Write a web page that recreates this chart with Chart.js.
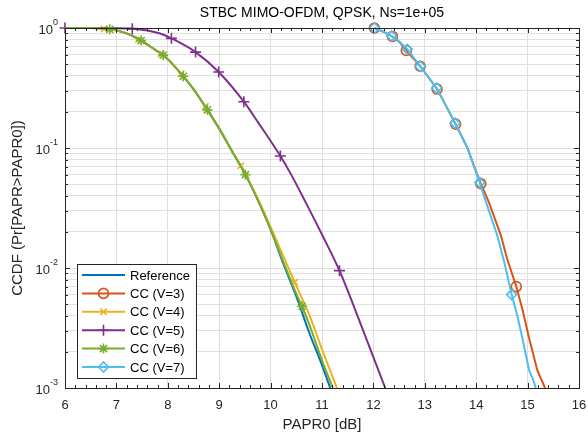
<!DOCTYPE html>
<html>
<head>
<meta charset="utf-8">
<title>STBC MIMO-OFDM CCDF</title>
<script src="https://cdn.jsdelivr.net/npm/chart.js@4.4.0/dist/chart.umd.min.js"></script>
<style>
  html, body { margin: 0; padding: 0; background: #fff; }
  #wrap { width: 588px; height: 434px; }
</style>
</head>
<body>
<div id="wrap"><canvas id="ccdf" width="588" height="434"></canvas></div>
<script>
// axis ticks
const xTicks = [6, 7, 8, 9, 10, 11, 12, 13, 14, 15, 16];
const yDecades = [0.001, 0.01, 0.1, 1];
const yDecadeExp = ["-3", "-2", "-1", "0"];

const seriesNames = ["Reference", "CC (V=3)", "CC (V=4)", "CC (V=5)", "CC (V=6)", "CC (V=7)"];

// Reference
const refPapr = [6.0, 6.5, 6.87, 7.0, 7.25, 7.48, 7.75, 7.91, 8.0, 8.3, 8.5, 8.77, 9.0, 9.25, 9.51, 9.75, 10.0, 10.25, 10.5, 10.75, 11.0, 11.16];
const refCcdf = [1.0, 0.998, 0.975, 0.955, 0.885, 0.785, 0.66, 0.594, 0.55, 0.396, 0.31, 0.208, 0.145, 0.094, 0.060, 0.037, 0.021, 0.0108, 0.0058, 0.0029, 0.00155, 0.001];

// CC (V=3)
const v3Papr = [12.02, 12.2, 12.37, 12.5, 12.64, 12.91, 13.05, 13.24, 13.4, 13.6, 13.83, 13.95, 14.09, 14.25, 14.48, 14.6, 14.78, 14.9, 15.02, 15.19, 15.34];
const v3Ccdf = [1.0, 0.93, 0.85, 0.77, 0.65, 0.48, 0.40, 0.31, 0.23, 0.158, 0.10, 0.072, 0.0505, 0.035, 0.0187, 0.012, 0.0070, 0.0045, 0.0027, 0.0014, 0.001];
const v3Marks = [12.02, 12.37, 12.64, 12.91, 13.24, 13.6, 14.09, 14.78];

// CC (V=4)
const v4Papr = [6.0, 6.5, 6.76, 7.0, 7.25, 7.43, 7.75, 7.87, 8.0, 8.26, 8.5, 8.73, 9.0, 9.25, 9.42, 9.75, 10.0, 10.25, 10.47, 10.68, 10.75, 11.0, 11.29];
const v4Ccdf = [1.0, 0.998, 0.982, 0.955, 0.885, 0.805, 0.66, 0.61, 0.55, 0.415, 0.31, 0.222, 0.145, 0.094, 0.071, 0.038, 0.022, 0.0125, 0.0076, 0.0048, 0.0041, 0.0021, 0.001];
const v4Marks = [6.76, 7.43, 7.87, 8.26, 8.73, 9.42, 10.47];

// CC (V=5)
const v5Papr = [6.0, 6.5, 7.0, 7.31, 7.6, 7.85, 8.07, 8.54, 8.99, 9.48, 9.75, 10.19, 10.4, 10.68, 11.0, 11.34, 11.79, 12.23];
const v5Ccdf = [1.0, 0.999, 0.997, 0.988, 0.955, 0.9, 0.82, 0.63, 0.43, 0.243, 0.165, 0.0857, 0.06, 0.0354, 0.019, 0.0095, 0.0031, 0.001];
const v5Marks = [6.0, 7.31, 8.07, 8.54, 8.99, 9.48, 10.19, 11.34];

// CC (V=6)
const v6Papr = [6.0, 6.5, 6.87, 7.0, 7.25, 7.48, 7.75, 7.91, 8.0, 8.3, 8.5, 8.77, 9.0, 9.25, 9.51, 9.75, 10.0, 10.25, 10.5, 10.61, 10.75, 11.0, 11.21];
const v6Ccdf = [1.0, 0.998, 0.975, 0.955, 0.885, 0.785, 0.66, 0.594, 0.55, 0.396, 0.31, 0.208, 0.145, 0.094, 0.060, 0.037, 0.021, 0.0112, 0.0061, 0.0048, 0.0034, 0.0017, 0.001];
const v6Marks = [6.87, 7.48, 7.91, 8.3, 8.77, 9.51, 10.61];

// CC (V=7)
const v7Papr = [12.02, 12.2, 12.35, 12.5, 12.66, 12.91, 13.05, 13.23, 13.4, 13.59, 13.83, 13.95, 14.07, 14.19, 14.41, 14.55, 14.69, 14.8, 14.89, 15.03, 15.1, 15.16];
const v7Ccdf = [1.0, 0.93, 0.86, 0.77, 0.665, 0.48, 0.40, 0.316, 0.23, 0.161, 0.10, 0.072, 0.0515, 0.0355, 0.0187, 0.011, 0.0060, 0.0040, 0.0027, 0.0014, 0.0012, 0.001];
const v7Marks = [12.02, 12.35, 12.66, 12.91, 13.23, 13.59, 14.07, 14.69];

const FONT = '"Liberation Sans", Arial, Helvetica, sans-serif';
const AXCOL = "#262626";

function toPoints(xs, ys) {
  return xs.map(function (x, i) { return { x: x, y: ys[i] }; });
}

function markerRadius(marks, r) {
  return function (c) {
    return marks.indexOf(c.raw.x) >= 0 ? r : 0;
  };
}

// [data, marks, colour, pointStyle, radius]
const series = [
  [toPoints(refPapr, refCcdf), [], "#0072BD", "circle", 0],
  [toPoints(v3Papr, v3Ccdf), v3Marks, "#D95319", "circle", 5],
  [toPoints(v4Papr, v4Ccdf), v4Marks, "#EDB120", "crossRot", 4.5],
  [toPoints(v5Papr, v5Ccdf), v5Marks, "#7E2F8E", "cross", 5.5],
  [toPoints(v6Papr, v6Ccdf), v6Marks, "#77AC30", "star", 5],
  [toPoints(v7Papr, v7Ccdf), v7Marks, "#4DBEEE", "rectRot", 5],
];

const datasets = series.map(function (s, i) {
  return {
    label: seriesNames[i],
    data: s[0],
    borderColor: s[2],
    backgroundColor: "rgba(0,0,0,0)",
    borderWidth: 2,
    tension: 0,
    cubicInterpolationMode: i === 1 || i === 5 ? "default" : "monotone",
    pointStyle: s[3],
    pointRadius: markerRadius(s[1], s[4]),
    pointBorderColor: s[2],
    pointBackgroundColor: "rgba(0,0,0,0)",
    pointBorderWidth: 1.6,
    order: series.length - i,
    clip: false,
  };
});

function drawMarker(ctx, style, r, x, y) {
  if (Chart.helpers && Chart.helpers.drawPoint) {
    Chart.helpers.drawPoint(ctx, { pointStyle: style, radius: r, rotation: 0, borderWidth: 1.6 }, x, y);
  }
}

const matlabAxes = {
  id: "matlabAxes",
  afterDraw: function (chart) {
    const ctx = chart.ctx;
    const a = chart.chartArea;
    const xs = chart.scales.x;
    const ys = chart.scales.y;
    ctx.save();

    // box
    ctx.strokeStyle = AXCOL;
    ctx.lineWidth = 1;
    ctx.strokeRect(Math.round(a.left) + 0.5, Math.round(a.top) + 0.5, Math.round(a.right - a.left), Math.round(a.bottom - a.top));

    // x ticks (inward, top and bottom)
    ctx.beginPath();
    for (let v = 6; v <= 16.001; v += 0.2) {
      const px = Math.round(xs.getPixelForValue(v)) + 0.5;
      const major = Math.abs(v - Math.round(v)) < 1e-6;
      const len = major ? 5 : 3;
      ctx.moveTo(px, a.bottom); ctx.lineTo(px, a.bottom - len);
      ctx.moveTo(px, a.top); ctx.lineTo(px, a.top + len);
    }
    // y ticks (log minor)
    yDecades.forEach(function (d, k) {
      for (let m = 1; m <= 9; m++) {
        if (k === yDecades.length - 1 && m > 1) break;
        const py = Math.round(ys.getPixelForValue(d * m)) + 0.5;
        const len = m === 1 ? 5 : 3;
        ctx.moveTo(a.left, py); ctx.lineTo(a.left + len, py);
        ctx.moveTo(a.right, py); ctx.lineTo(a.right - len, py);
      }
    });
    ctx.stroke();

    // y tick labels 10^n
    ctx.fillStyle = AXCOL;
    ctx.textBaseline = "middle";
    ctx.textAlign = "left";
    yDecades.forEach(function (d, k) {
      const py = ys.getPixelForValue(d);
      ctx.font = "9px " + FONT;
      const ew = ctx.measureText(yDecadeExp[k]).width;
      ctx.font = "13px " + FONT;
      const bw = ctx.measureText("10").width;
      const right = a.left - 7;
      ctx.fillText("10", right - ew - bw, py + 2);
      ctx.font = "9px " + FONT;
      ctx.fillText(yDecadeExp[k], right - ew, py - 5);
    });

    // title
    ctx.font = "14px " + FONT;
    ctx.textAlign = "center";
    ctx.fillStyle = "#000";
    ctx.fillText("STBC MIMO-OFDM, QPSK, Ns=1e+05", (a.left + a.right) / 2, 13);

    // legend
    const lx = 77, ly = 264, lw = 119, lh = 114, row = 18.4;
    ctx.fillStyle = "#fff";
    ctx.fillRect(lx, ly, lw, lh);
    ctx.strokeStyle = AXCOL;
    ctx.lineWidth = 1;
    ctx.strokeRect(lx + 0.5, ly + 0.5, lw, lh);
    ctx.font = "13px " + FONT;
    ctx.textAlign = "left";
    series.forEach(function (s, i) {
      const cy = ly + 11 + i * row;
      ctx.strokeStyle = s[2];
      ctx.lineWidth = 2;
      ctx.beginPath();
      ctx.moveTo(lx + 5, cy); ctx.lineTo(lx + 48, cy);
      ctx.stroke();
      if (s[4] > 0) {
        ctx.fillStyle = "rgba(0,0,0,0)";
        ctx.lineWidth = 1.6;
        drawMarker(ctx, s[3], s[4], lx + 26.5, cy);
      }
      ctx.fillStyle = "#000";
      ctx.fillText(seriesNames[i], lx + 53, cy + 1);
    });
    ctx.restore();
  },
};

new Chart(document.getElementById("ccdf"), {
  type: "line",
  data: { datasets: datasets },
  options: {
    responsive: false,
    animation: false,
    events: [],
    layout: { padding: { top: 28, right: 9, left: 0, bottom: 0 } },
    plugins: {
      legend: { display: false },
      tooltip: { enabled: false },
      title: { display: false },
    },
    scales: {
      x: {
        type: "linear",
        min: 6,
        max: 16,
        afterBuildTicks: function (s) { s.ticks = xTicks.map(function (v) { return { value: v }; }); },
        afterFit: function (s) { s.height = 46; s.paddingLeft = 0; s.paddingRight = 0; },
        ticks: { font: { family: FONT, size: 13 }, color: AXCOL, padding: 10, maxRotation: 0 },
        grid: { color: "#dfdfdf", drawTicks: false },
        border: { display: false },
        title: { display: true, text: "PAPR0 [dB]", font: { family: FONT, size: 15 }, color: AXCOL, padding: { top: 0, bottom: 0 } },
      },
      y: {
        type: "logarithmic",
        min: 0.001,
        max: 1,
        afterBuildTicks: function (s) {
          const t = [];
          yDecades.forEach(function (d, k) {
            for (let m = 1; m <= 9; m++) {
              if (k === yDecades.length - 1 && m > 1) break;
              t.push({ value: d * m });
            }
          });
          s.ticks = t;
        },
        afterFit: function (s) { s.width = 65; s.paddingTop = 0; s.paddingBottom = 0; },
        ticks: { display: false },
        grid: { color: "#e0e0e0", drawTicks: false },
        border: { display: false },
        title: { display: true, text: "CCDF (Pr[PAPR>PAPR0])", font: { family: FONT, size: 15 }, color: AXCOL, padding: { top: 9, bottom: 0 } },
      },
    },
  },
  plugins: [matlabAxes],
});
</script>
</body>
</html>
